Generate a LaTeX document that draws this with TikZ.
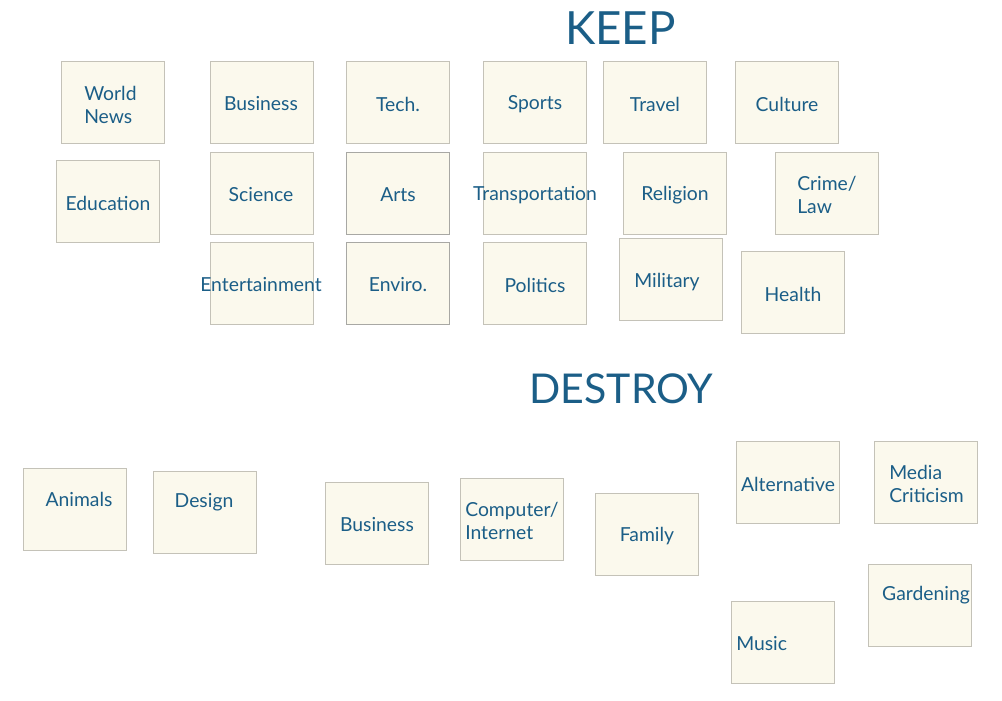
\documentclass[tikz,border=0pt]{standalone}
\usepackage{fontspec}
\setmainfont{Lato}
\usepackage{xcolor}
\usepackage{tikz}
\definecolor{ink}{RGB}{27,94,135}
\definecolor{paper}{RGB}{251,249,237}
\definecolor{edge}{RGB}{196,194,184}
\definecolor{edgedark}{RGB}{168,168,164}

\begin{document}
\begin{tikzpicture}[
  x=0.75pt, y=-0.75pt,
  note/.style={draw=edge, line width=0.75pt, fill=paper, minimum width=77.25pt, minimum height=61.5pt, inner sep=0pt},
  notedark/.style={note, draw=edgedark},
  lbl/.style={text=ink, font=\fontsize{14.5}{17.3}\selectfont, inner sep=0pt, align=center, yshift=-0.75pt},
  lbll/.style={lbl, anchor=west, align=left},
  head/.style={text=ink, inner sep=0pt},
]
\useasboundingbox[fill=white] (0,0) rectangle (1002,700);

% headings
\node[head, font=\fontsize{34.3}{38}\selectfont] (keep) at (620.5,28) {KEEP};
\node[head, font=\fontsize{30.8}{34}\selectfont] (destroy) at (621.5,389) {DESTROY};

% keep notes, first row
\node[note] (worldnews) at (112.5,102) {};
\node[lbll] (worldnews-t) at (84,103.5) {World\\News};
\node[note] (business) at (261.5,102) {};
\node[lbl] (business-t) at (261,103) {Business};
\node[note] (tech) at (397.5,102) {};
\node[lbl] (tech-t) at (398,103) {Tech.};
\node[note] (sports) at (534.5,102) {};
\node[lbl] (sports-t) at (535,103) {Sports};
\node[note] (travel) at (654.5,102) {};
\node[lbl] (travel-t) at (655,103) {Travel};
\node[note] (culture) at (786.5,102) {};
\node[lbl] (culture-t) at (787,103) {Culture};

% second row
\node[note] (education) at (107.5,201) {};
\node[lbl] (education-t) at (108,202) {Education};
\node[note] (science) at (261.5,193) {};
\node[lbl] (science-t) at (261,194) {Science};
\node[notedark] (arts) at (397.5,193) {};
\node[lbl] (arts-t) at (398,194) {Arts};
\node[note] (transport) at (534.5,193) {};
\node[lbl] (transport-t) at (535,194) {Transportation};
\node[note] (religion) at (674.5,193) {};
\node[lbl] (religion-t) at (675,194) {Religion};
\node[note] (crime) at (826.5,193) {};
\node[lbll] (crime-t) at (797,194) {Crime/\\Law};

% third row
\node[note] (entertain) at (261.5,283) {};
\node[lbl] (entertain-t) at (261,284) {Entertainment};
\node[notedark] (enviro) at (397.5,283) {};
\node[lbl] (enviro-t) at (398,284) {Enviro.};
\node[note] (politics) at (534.5,283) {};
\node[lbl] (politics-t) at (535,284) {Politics};
\node[note] (military) at (670.5,279.5) {};
\node[lbl] (military-t) at (667,281) {Military};
\node[note] (health) at (792.5,292) {};
\node[lbl] (health-t) at (793,293) {Health};

% destroy notes
\node[note] (animals) at (74.5,509) {};
\node[lbl] (animals-t) at (79,498) {Animals};
\node[note] (design) at (204.5,512) {};
\node[lbl] (design-t) at (204,501) {Design};
\node[note] (business2) at (376.5,523) {};
\node[lbl] (business2-t) at (377,524) {Business};
\node[note] (computer) at (511.5,519) {};
\node[lbll] (computer-t) at (465,520) {Computer/\\Internet};
\node[note] (family) at (646.5,534) {};
\node[lbl] (family-t) at (647,535) {Family};
\node[note] (alternative) at (787.5,482) {};
\node[lbl] (alternative-t) at (788,483) {Alternative};
\node[note] (media) at (925.5,482) {};
\node[lbll] (media-t) at (889,482.5) {Media\\Criticism};
\node[note] (gardening) at (919.5,605) {};
\node[lbl] (gardening-t) at (926,594) {Gardening};
\node[note] (music) at (782.5,642) {};
\node[lbll] (music-t) at (736,643) {Music};

\end{tikzpicture}
\end{document}
